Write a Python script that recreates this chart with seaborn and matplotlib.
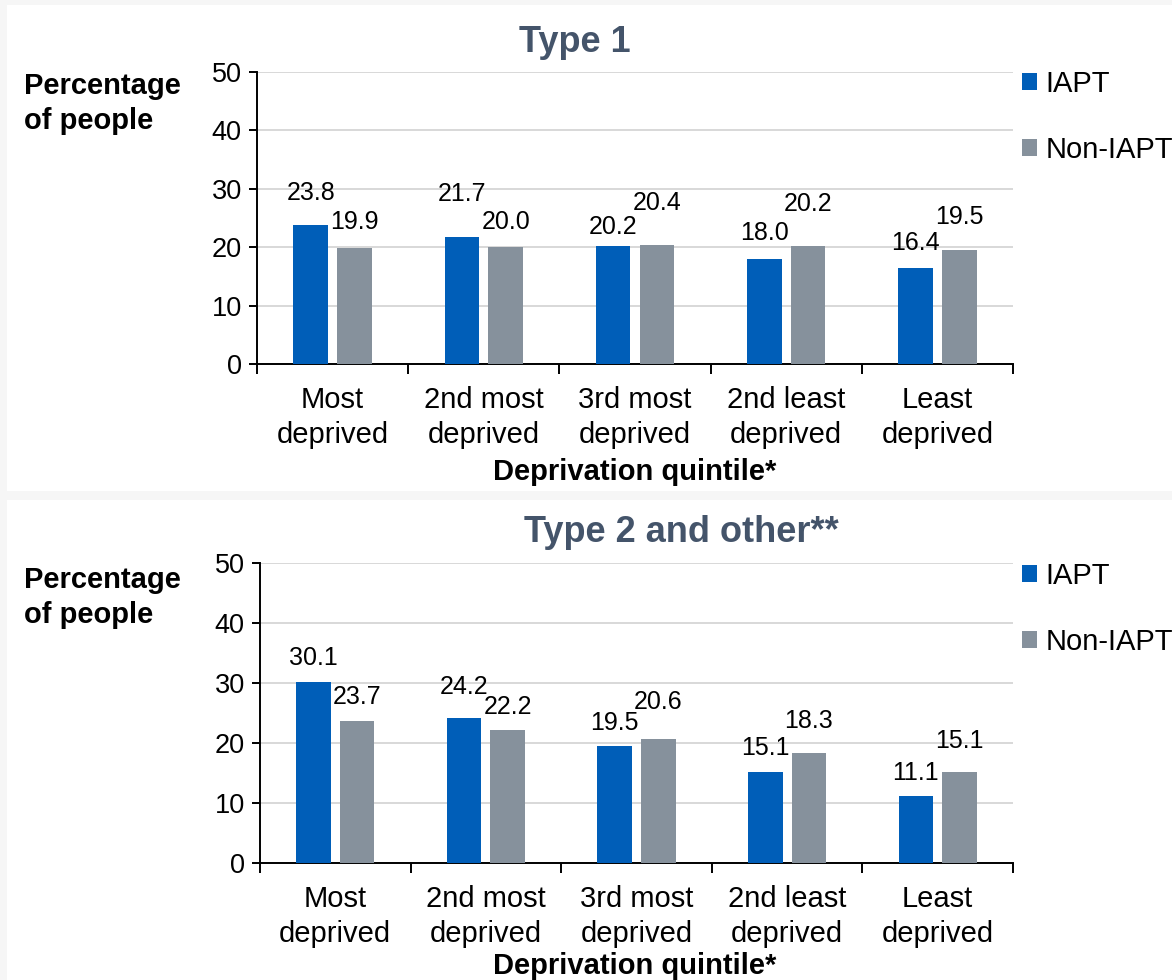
import numpy as np
import pandas as pd
import matplotlib.pyplot as plt
import seaborn as sns
from matplotlib.patches import Rectangle, Patch

sns.set_style('white')
plt.rcParams['font.family'] = ['Liberation Sans', 'DejaVu Sans']
plt.rcParams['text.color'] = 'black'
plt.rcParams['xtick.color'] = 'black'
plt.rcParams['ytick.color'] = 'black'

quintiles = ['Most\ndeprived', '2nd most\ndeprived', '3rd most\ndeprived',
             '2nd least\ndeprived', 'Least\ndeprived']
groups = ['IAPT', 'Non-IAPT']
panel_titles = ['Type 1', 'Type 2 and other**']

type1_iapt = [23.8, 21.7, 20.2, 18.0, 16.4]
type1_non = [19.9, 20.0, 20.4, 20.2, 19.5]
type2_iapt = [30.1, 24.2, 19.5, 15.1, 11.1]
type2_non = [23.7, 22.2, 20.6, 18.3, 15.1]

# label lift above bar top, in pixels (the original has hand-placed labels)
lift1 = [[32, 43, 19, 26, 25], [26, 25, 42, 42, 33]]
lift2 = [[24, 31, 23, 24, 23], [24, 23, 37, 32, 31]]

cols = {'IAPT': '#005EB8', 'Non-IAPT': '#86919C'}
tick_fs = 19.5
lab_fs = 21
val_fs = 18

def make_df(iapt, non):
    return pd.DataFrame({
        'quintile': quintiles * 2,
        'group': ['IAPT'] * 5 + ['Non-IAPT'] * 5,
        'pct': list(iapt) + list(non),
    })

fig = plt.figure(figsize=(11.72, 9.8), dpi=100)
fig.patch.set_facecolor('#f6f6f6')
W, H = 1172.0, 980.0

# white panels behind each chart
for (y0, y1) in [(5, 491), (500, 980)]:
    fig.patches.append(Rectangle((7 / W, 1 - y1 / H), 1 - 7 / W, (y1 - y0) / H,
                                 transform=fig.transFigure, facecolor='white',
                                 edgecolor='none', zorder=-5))

axes_pos = [[257 / W, 1 - 364 / H, 756 / W, 292 / H],
            [260 / W, 1 - 863 / H, 753 / W, 300 / H]]
dfs = [make_df(type1_iapt, type1_non), make_df(type2_iapt, type2_non)]
lifts = [lift1, lift2]
title_xy = [(575, 43), (681, 533)]
ylab_y = [72, 566]
xlab_y = [472, 966]
leg_y = [88, 580]

for pp in range(2):
    ax = fig.add_axes(axes_pos[pp])
    ax.set_facecolor('white')
    sns.barplot(data=dfs[pp], x='quintile', y='pct', hue='group', hue_order=groups,
                palette=cols, saturation=1, width=0.58, gap=0.21, linewidth=0, ax=ax,
                legend=False, zorder=3)
    ax.set_ylim(0, 50)
    ax.set_xlim(-0.5, 4.5)
    ax.set_yticks([0, 10, 20, 30, 40, 50])
    ax.yaxis.grid(True, color='#d6d6d6', linewidth=1.3, zorder=0)
    ax.set_axisbelow(True)
    for s in ['top', 'right']:
        ax.spines[s].set_visible(False)
    for s in ['left', 'bottom']:
        ax.spines[s].set_color('black')
        ax.spines[s].set_linewidth(1.4)
    ax.tick_params(axis='y', length=6, width=1.4, color='black', labelsize=tick_fs,
                   pad=5, left=True)
    ax.set_xticks(range(5))
    ax.set_xticklabels(quintiles, fontsize=lab_fs, linespacing=1.3)
    ax.tick_params(axis='x', which='major', length=0, pad=16)
    ax.set_xticks(np.arange(-0.5, 5, 1), minor=True)
    ax.tick_params(axis='x', which='minor', length=7, width=1.4, color='black', bottom=True)
    ax.set_xlabel('')
    ax.set_ylabel('')

    for cc, cont in enumerate(ax.containers):
        for bb, bar in enumerate(cont):
            h = bar.get_height()
            ax.annotate(f'{h:.1f}', xy=(bar.get_x() + bar.get_width() / 2, h),
                        xytext=(0, lifts[pp][cc][bb] * 0.72), textcoords='offset points',
                        ha='center', va='center', fontsize=val_fs, color='black')

    fig.text(title_xy[pp][0] / W, 1 - title_xy[pp][1] / H, panel_titles[pp],
             ha='center', va='center', fontsize=26, fontweight='bold', color='#44546A')
    fig.text(24 / W, 1 - ylab_y[pp] / H, 'Percentage\nof people', ha='left', va='top',
             fontsize=21, fontweight='bold', linespacing=1.3)
    fig.text(635 / W, 1 - xlab_y[pp] / H, 'Deprivation quintile*', ha='center',
             va='center', fontsize=21, fontweight='bold')

    handles = [Patch(facecolor=cols[g], edgecolor='none') for g in groups]
    fig.legend(handles, groups, loc='upper left',
               bbox_to_anchor=(1022 / W, 1 - (leg_y[pp] - 18) / H),
               frameon=False, fontsize=21, handlelength=0.5, handleheight=0.5,
               handletextpad=0.3, labelspacing=1.3, borderaxespad=0, borderpad=0)

fig.savefig('out.png', dpi=100, facecolor=fig.get_facecolor())
